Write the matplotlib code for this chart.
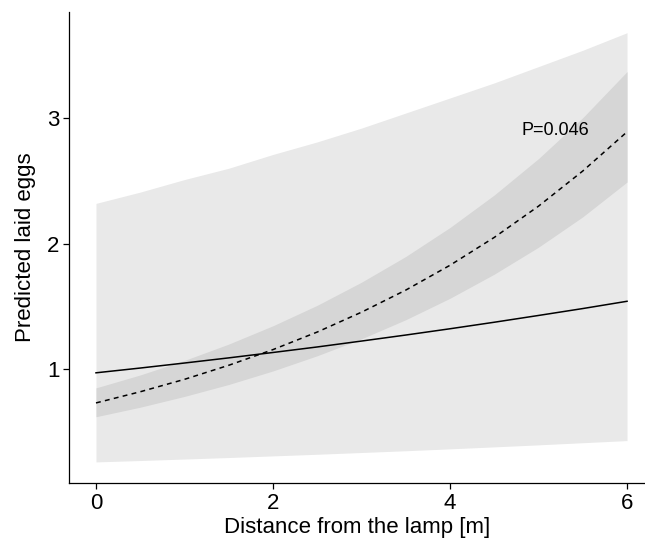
# Predicted laid eggs vs. distance from the lamp, with confidence bands

import matplotlib
matplotlib.use('Agg')
import matplotlib.pyplot as plt

plt.rcParams['font.family'] = ['Liberation Sans', 'DejaVu Sans']

# distance from the lamp [m]
distance = [0, 0.5, 1, 1.5, 2, 2.5, 3, 3.5, 4, 4.5, 5, 5.5, 6]

# solid line with its wide band
solid_fit = [0.97, 1.008, 1.048, 1.089, 1.132, 1.176, 1.223, 1.271, 1.321, 1.373, 1.427, 1.482, 1.54]
solid_lo = [0.26, 0.271, 0.283, 0.295, 0.308, 0.321, 0.335, 0.349, 0.364, 0.380, 0.396, 0.413, 0.43]
solid_hi = [2.32, 2.41, 2.51, 2.60, 2.71, 2.81, 2.92, 3.04, 3.16, 3.28, 3.41, 3.54, 3.68]

# dashed line with its narrow band
dashed_fit = [0.73, 0.819, 0.918, 1.030, 1.155, 1.295, 1.453, 1.629, 1.827, 2.049, 2.298, 2.578, 2.89]
dashed_lo = [0.62, 0.696, 0.782, 0.877, 0.985, 1.106, 1.241, 1.393, 1.564, 1.756, 1.971, 2.213, 2.49]
dashed_hi = [0.85, 0.953, 1.069, 1.199, 1.345, 1.508, 1.692, 1.897, 2.128, 2.387, 2.677, 3.003, 3.37]

p_label = 'P=0.046'

fig = plt.figure(figsize=(6.45, 5.4), dpi=100)
ax = fig.add_axes([69 / 645, 57 / 540, 1 - 69 / 645, 471 / 540])

ax.fill_between(distance, solid_lo, solid_hi, color='#e9e9e9', linewidth=0)
ax.fill_between(distance, dashed_lo, dashed_hi, color='#d6d6d6', linewidth=0)
ax.plot(distance, solid_fit, color='black', lw=1.1)
ax.plot(distance, dashed_fit, color='black', lw=1.1, linestyle=(0, (3.2, 2.8)))

ax.text(5.19, 2.90, p_label, fontsize=13, ha='center', va='center')

ax.set_xlim(-0.305, 6.203)
ax.set_ylim(0.092, 3.845)
ax.set_xticks([0, 2, 4, 6])
ax.set_yticks([1, 2, 3])

for side in ['top', 'right']:
    ax.spines[side].set_visible(False)
for side in ['left', 'bottom']:
    ax.spines[side].set_linewidth(0.9)

ax.tick_params(axis='both', labelsize=16, length=4, width=0.9, color='black', pad=3)

ax.set_xlabel('Distance from the lamp [m]', fontsize=16, labelpad=2)
ax.set_ylabel('Predicted laid eggs', fontsize=16, labelpad=8)

fig.savefig('out.png', dpi=100)
